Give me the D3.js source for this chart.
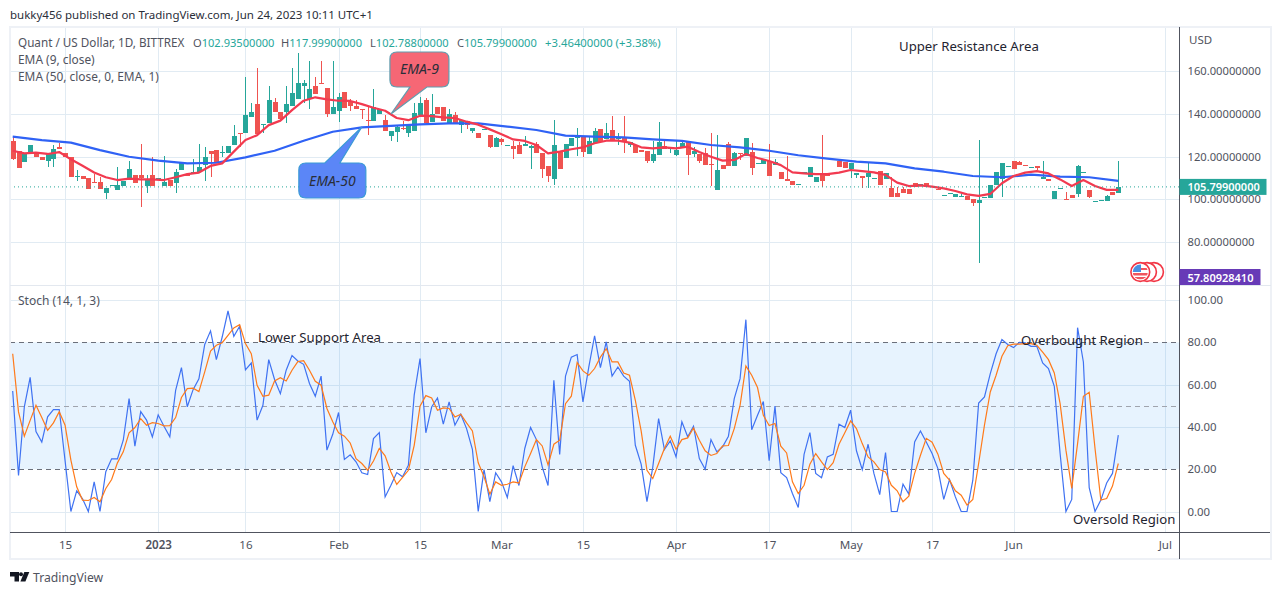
<!DOCTYPE html>
<html>
<head>
<meta charset="utf-8">
<script src="https://cdn.jsdelivr.net/npm/d3@7"></script>
<style>
  html, body { margin: 0; padding: 0; background: #fff; }
  svg { display: block; }
  text { font-family: "Noto Sans", sans-serif; }
</style>
</head>
<body>
<svg id="chart" width="1281" height="595"></svg>
<script>
// daily candles
var opens = [127.1,122.4,117.4,121.5,121.8,119.9,117.8,119,124.6,121.5,119.9,110.3,110.7,110,108.3,107.9,103.1,106.5,104.5,106.2,
  110,111.2,111.2,106.2,111.2,109.7,106.2,109,107.8,113.7,112,111.8,112.8,115.9,122.4,123,121.5,121.5,125.2,131.2,
  131.2,138.6,144.5,134.9,135.5,145.5,141,140.8,143.6,147,153,147,153,154.2,152,139.9,141.4,150.2,145.5,143.6,
  142.4,137,136.8,139.9,137,129.6,131.5,133.3,130.8,131.8,139.6,146.4,136.3,143,143,135.5,139.4,134.9,136.4,132,
  130.8,132.6,130,124.6,128.2,125.1,124.9,125.4,124.9,124,125.9,121.5,115.6,109.5,122.4,119.3,124.9,128.5,129.3,121.2,
  126.5,132.7,128.3,132.4,128,128.8,125.4,125.4,122.9,122.7,117.9,120.9,124.9,123.4,120.7,123.8,126.8,121.3,121.2,121.5,
  116.5,104.5,116,125.9,115.7,121.5,120.2,122.1,116.7,116.7,118.1,116,112.8,109.3,108.6,106.7,112.4,110.6,108.1,111.8,
  112.1,112,118.1,117.4,114.2,111.5,110.9,110.3,109.5,113.1,109.7,105.3,102.8,105,104.7,107.8,106.2,107.8,105.9,104.8,
  101.7,102.5,101.2,101.2,101.6,100,98.3,100.8,100.8,106.7,109.7,115.1,117.9,117.4,116,114.8,115.4,109.5,109.7,100.2,
  105,100.3,102,102.5,112.6,104.4,98.9,99.2,99.4,103.6,102.935];
var highs = [129.3,122.4,121.2,125.2,121.8,119.9,121.2,125.5,126.2,121.5,119.9,113.7,110.7,110,112,110.6,105.3,106.7,115.3,108.4,
  117.8,111.2,125.9,111.2,119.6,110,120.2,109,114,116.8,112,119,125.9,124.3,122.4,123,124.9,124.9,134.9,131.2,
  157,144.9,161.4,135.2,153,147.4,141,153,161.4,168.2,156,164.8,157,164.8,152,164.8,149.5,150.2,147,146.4,
  142.4,143.3,151.7,142,139.4,131.8,134.9,136.8,134.9,144.9,148,147.2,149.2,143,143,142,141,137,136.4,133.3,
  130.8,132.9,130,129,128.8,125.4,127.3,127,129.6,125.4,127,121.5,115.6,137,122.4,125.9,128.7,133.2,129.3,129.3,
  133.2,132.7,135.8,138.9,130.8,138.9,126.9,125.4,122.9,122.7,127.4,136.1,127.4,124.6,127.7,127.7,126.8,124.6,121.2,123.8,
  130.8,130,116,126.8,122,121.5,128.7,126.2,117,118.7,125.9,118.7,112.8,120.2,108.6,107,112.6,115,110.6,130,
  112.1,112.2,118.4,117.4,116.8,112.1,110.9,117.1,109.8,113.1,112.1,110.3,105.6,105.9,104.7,107.8,107.2,107.8,106.2,105.6,
  101.9,102.8,102.3,102.5,101.6,100,127.7,101.1,106.5,112.8,117,115.4,117.9,117.9,116,115.1,115.4,117.9,109.7,103.9,
  105.3,103.4,102,115.9,112.9,104.4,99.2,99.7,102,103.6,117.999];
var lows = [118.4,114.8,117.4,121.5,119.9,118.4,115.3,115.3,123.4,119.6,110.6,108.7,109.7,105,108,105,100.3,106.5,104.5,106.2,
  110,107.8,96.3,103.1,106.2,109.7,106.2,106.2,103.1,113.7,110.9,111.8,112.8,108.7,110.3,116.8,120,121.5,125.2,124.6,
  131.2,138.6,130.5,130.8,135.5,140.8,137,135.5,143.6,147,144.9,142.4,149.2,153.9,138.3,139.9,136.1,142.7,141.5,142.4,
  137.4,130.2,136.8,139.9,131.8,127.4,126.8,132.4,129.3,131.8,139.6,135.8,136.3,139.9,136.8,135.5,135.5,131.2,133,131.2,
  128.8,132.6,123.8,124.3,125.4,125.1,118.8,121.2,124.9,114.2,121.5,109.8,108.3,106.7,114.2,119.3,124.9,120.4,119.9,121.2,
  126.5,126.8,128.3,127.4,125.5,121.8,124.5,121.8,122.3,117.1,116.8,120.9,123.4,121.7,120.4,123.8,111.4,119.9,117.1,116.2,
  106.2,104.5,114.2,115.7,115.7,118.4,120.2,111.4,116.7,116.7,110.9,116,109.5,108.7,106.7,106.7,112.4,110.6,108.1,105.6,
  111.1,112,115.3,114.6,110,110,105.5,105.5,109.5,106.7,109.7,101.2,101.2,102.8,102.5,105.9,106.2,105.9,105.9,104.5,
  101.7,102.5,101.2,101.2,99.7,97,70.4,100.8,100.8,106.7,101.2,115.1,114.2,116.2,115.7,114.8,113.7,109.5,108.7,100.2,
  105,100,100.6,101.2,112.6,100.5,98.9,99.2,99.4,102,102.788];
var closes = [118.7,114.8,121.2,125.2,119.9,118.4,121.2,123.4,123.4,119.6,110.6,110.9,109.7,105,108,105,105.3,106.7,106.7,108.4,
  114,107.8,110,109,106.2,110,108.3,106.2,113,116.8,110.9,113,115.3,119.9,121.2,116.8,122,124.9,129.6,130.5,
  139.3,141,130.5,135.2,146.4,140.8,137.7,144.5,149.5,154.2,154.2,151.7,149.2,153.9,139.9,143,147.7,142.7,143.6,142.4,
  142,136.4,143,142,132,131.8,134,132.7,134.9,140.5,144.9,135.8,139.9,139.9,136.8,139.9,135.5,137,134.9,133.3,
  128.8,132.9,124.3,128.7,126.6,125.4,123.7,121.2,125.9,124.9,121.5,114.2,110.9,125.4,114.2,125.9,128.7,129.6,122.1,127.3,
  131.8,126.8,131,127.4,129.3,126.9,126.9,121.8,122.3,117.8,121.2,126.8,123.4,124.6,123.1,126.5,120.9,122.6,118.1,116.2,
  116.2,113.7,114.2,115.7,121.5,121.2,128.7,114.6,117,118.7,110.9,117.6,109.5,108.7,106.7,107,112.6,115,110.6,108.6,
  111.1,112.2,115.3,114.6,116.8,112.1,109.8,112.5,109.8,106.7,112.1,101.2,101.2,102.8,102.5,105.9,107.2,105.9,106.2,104.5,
  101.9,102.8,102.3,101.6,99.7,98.1,99.7,101.1,106.5,112.8,117,115.4,114.2,116.2,115.7,115.1,114.6,110.6,108.7,103.9,
  105.3,100,100.6,115.6,112.9,101.2,99.2,99.7,101.6,102,105.799];

// EMA values read at every 2nd bar (EMA 9) and every 5th bar (EMA 50)
var ema9Step = 2;
var ema9 = [122.7,121.5,121.8,121.2,122.1,118.7,115.7,112.5,110.3,109,109.7,109.3,109.3,109,110.3,111.8,112.5,115.6,116.8,122.3,
  127.7,130,134.7,136.8,141.7,146.1,147.7,146.7,146.1,146,144.5,142.8,141.4,138,137,139.1,138.9,138.3,138,136.3,
  134.9,132.7,130.4,128,127.3,125.4,121.5,122.3,123.4,124.3,126.2,127.4,127.4,126.5,124.3,123.8,124.3,123.8,124.6,122.1,
  119.9,118.1,118.4,121.2,119.3,117.9,116,112.6,112.1,111.8,111.8,112.5,113.7,113.2,112.6,111.4,107.8,106.2,106.5,105.9,
  105.1,103.9,102.3,101.6,102.5,107.5,110.9,112.5,113.2,112.1,109.3,106.2,109,106.2,104.4,104.4];
var ema50Step = 5;
var ema50 = [129.3,127.7,126.5,123,119.9,118.1,116.8,117.1,119.6,122.7,127.4,131.6,133.6,134.3,135,135.5,135.5,134,132.4,129.8,
  129.3,129,128,127.3,125.4,124.3,122.7,120.6,119,117.6,116.8,114.5,112.9,110.9,110.3,111.5,110.6,110.3,108.6];

var stochK = [57,17,49.5,63.4,37.8,32.8,44.8,48.2,48.2,24,0,9.8,6,0,14,0,18.8,24.9,24.9,33.7,
  53.4,30.9,47.2,43.2,35.3,45.7,40.3,35.3,57.3,68,49.5,57.6,62.7,79,85.4,71.8,82.5,94.8,82.8,87.6,
  67,70.2,43.2,50.2,71.8,62.4,55.7,66.8,73.7,71.2,69.6,60.5,54.5,64,29,36.5,46.8,24.6,26.8,23.5,
  18.3,17.5,34.5,37.3,6.9,12.4,18.4,16.4,21.9,55,72.3,37.2,49.4,53.7,41.3,51.8,40.8,46,39.2,29.4,
  0,19.8,4.7,18.3,14,6.6,21.7,12.3,29.8,39.7,34,21.1,12.3,62,27,64,73,74.2,51.8,68.3,
  83.1,68,80.2,64,68.3,64,61.6,31.3,22.4,4.7,21,43.9,29.3,33.4,25.8,42.4,35.3,40.3,25,20,
  34,28.2,30.6,35.6,53.4,62.8,90.7,38.7,45.5,52,24,49.8,18.4,16,8.5,1.9,27,37.3,18,16,
  25.8,27,41.3,39.7,47.9,28.7,19.8,31.8,18,8,27.9,0,0,12.9,8.2,32.9,38.1,32.9,27.4,20.3,
  5.7,15.1,6.9,0,0,14.8,51.3,54.2,65.2,74.6,81.3,79,77.5,80,79.7,78.1,78.1,70.2,67.6,59.2,
  27.4,0,5.7,86.9,70.7,11.3,0,5.4,13.5,18,36.1];
var stochD = [74.6,47.1,35.6,43.1,50.2,44.4,38.4,41.9,47.2,40.8,24.3,11.7,5.4,5.2,6.6,4.6,10.9,15.1,23,28.2,
  37.2,39.7,43.9,40.8,42,41.6,40.5,40.6,44.4,53.9,58.1,58.3,56.7,66,75.9,78.6,79.8,83.3,86.8,88.3,
  79.4,74.6,59.7,54.5,55,61.7,63.3,61.7,66.8,70.9,71.3,66.8,61.6,59.7,48.7,42.4,37.2,35.6,32.4,25,
  22.7,19.5,23.9,29.8,26.3,18.7,12.8,16.1,19.5,31.3,49.8,54.8,53.7,47.9,49,48.7,44.7,46,41.9,38.1,
  23,16.4,8.2,14,12.4,12.9,14,13.5,21.1,27.4,34,31,22,31.8,33.7,51,54.5,70.4,66.5,64.4,
  67.6,73,77,70.7,70.7,65.5,64.4,52.6,38.1,19.5,15.6,22.7,29.8,35.6,29.4,34,34.8,39.5,33.7,28.7,
  26.5,27.4,31,31.2,39.2,50.2,68.8,64.4,58.6,45.5,40.6,41.6,30.9,27.7,14,8.5,12.4,22.4,27.4,23.5,
  19.8,23.1,31.8,37.2,42.8,39.2,32.1,25.8,23.5,19.8,18.7,12.4,9.8,4.6,7.2,18,26.6,34.6,32.8,27.1,
  18,14.8,9.8,7.7,3,5.7,22.7,40.8,56.5,64.4,73.4,78.4,79.1,79.1,79.4,79.4,78.6,75.4,71.8,65.5,
  51,29,10.9,32.1,54.5,56.4,29.8,5.4,6.1,12,22.7];

var priceTicks = [160,140,120,100,80];
var stochTicks = [100,80,60,40,20,0];
var stochGrid = [100,60,40,0];
var stochLevels = [80,50,20];
var timeBars = [9,25,40,56,70,84,98,114,130,144,158,172,198];
var timeLabels = ["15","2023","16","Feb","15","Mar","15","Apr","17","May","17","Jun","Jul"];
var lastPrice = 105.799;
var otherPrice = 57.80928410;

var ohlcLabels = [["O","102.93500000",193],["H","117.99900000",281],["L","102.78800000",370],["C","105.79900000",457]];
var notes = [
  {text:"Upper Resistance Area", x:899, y:51},
  {text:"Lower Support Area", x:258, y:342},
  {text:"Overbought Region", x:1021, y:345},
  {text:"Oversold Region", x:1073, y:524}
];

var upColor = "#26a69a", downColor = "#ef5350", gridColor = "#e1ebf3", textColor = "#50535e";

var svg = d3.select("#chart");
var left = 10, right = 1179.5, frameRight = 1271;
var priceTop = 28, priceBottom = 285, stochBottom = 532, frameBottom = 559;

// bar index to pixel, one scale for both panes
var x = d3.scaleLinear().domain([0, 190]).range([12.7, 1118.3]);
var y = d3.scaleLinear().domain([100, 160]).range([199.3, 71]);
var yStoch = d3.scaleLinear().domain([0, 80]).range([511.5, 342.3]);

// text header
svg.append("text").attr("x", 10).attr("y", 19).attr("font-size", 11.5).attr("fill", "#2a2e39")
  .text("bukky456 published on TradingView.com, Jun 24, 2023 10:11 UTC+1");

// grids
var grid = svg.append("g").attr("stroke", gridColor).attr("shape-rendering", "crispEdges");
grid.selectAll(".vp").data(timeBars).join("line").attr("class", "vp")
  .attr("x1", function(d) { return Math.round(x(d)) + 0.5; })
  .attr("x2", function(d) { return Math.round(x(d)) + 0.5; })
  .attr("y1", priceTop).attr("y2", stochBottom);
grid.selectAll(".hp").data(priceTicks).join("line").attr("class", "hp")
  .attr("x1", left).attr("x2", right)
  .attr("y1", function(d) { return Math.round(y(d)) + 0.5; })
  .attr("y2", function(d) { return Math.round(y(d)) + 0.5; });

// stoch band sits under the grid lines of its pane
svg.append("rect").attr("x", left).attr("width", right - left)
  .attr("y", yStoch(80)).attr("height", yStoch(20) - yStoch(80))
  .attr("fill", "#2196f3").attr("opacity", 0.11);
grid.selectAll(".hs").data(stochGrid).join("line").attr("class", "hs")
  .attr("x1", left).attr("x2", right)
  .attr("y1", function(d) { return Math.round(yStoch(d)) + 0.5; })
  .attr("y2", function(d) { return Math.round(yStoch(d)) + 0.5; });

// candles
var bars = d3.range(closes.length);
var candle = svg.append("g").attr("shape-rendering", "crispEdges");
function barColor(i) { return closes[i] >= opens[i] ? upColor : downColor; }
candle.selectAll("line").data(bars).join("line")
  .attr("x1", function(i) { return Math.round(x(i)) + 0.5; })
  .attr("x2", function(i) { return Math.round(x(i)) + 0.5; })
  .attr("y1", function(i) { return y(highs[i]); })
  .attr("y2", function(i) { return y(lows[i]); })
  .attr("stroke", barColor);
candle.selectAll("rect").data(bars).join("rect")
  .attr("x", function(i) { return Math.round(x(i)) - 2; })
  .attr("width", 5)
  .attr("y", function(i) { return y(Math.max(opens[i], closes[i])); })
  .attr("height", function(i) { return Math.max(1, Math.abs(y(opens[i]) - y(closes[i]))); })
  .attr("fill", barColor);

// moving averages
function stepLine(step) {
  return d3.line().x(function(d, i) { return x(i * step); }).y(function(d) { return y(d); });
}
svg.append("path").datum(ema50).attr("fill", "none").attr("stroke", "#2f62f5").attr("stroke-width", 2.2)
  .attr("stroke-linejoin", "round").attr("d", stepLine(ema50Step));
svg.append("path").datum(ema9).attr("fill", "none").attr("stroke", "#f23a50").attr("stroke-width", 2.2)
  .attr("stroke-linejoin", "round").attr("d", stepLine(ema9Step));

// last price dotted line
svg.append("line").attr("x1", left).attr("x2", right)
  .attr("y1", y(lastPrice)).attr("y2", y(lastPrice))
  .attr("stroke", upColor).attr("stroke-dasharray", "1 3");

// stoch levels
svg.selectAll(".lvl").data(stochLevels).join("line").attr("class", "lvl")
  .attr("x1", left).attr("x2", right)
  .attr("y1", function(d) { return Math.round(yStoch(d)) + 0.5; })
  .attr("y2", function(d) { return Math.round(yStoch(d)) + 0.5; })
  .attr("stroke", function(d) { return d == 50 ? "#a0a4ad" : "#6b6f7a"; })
  .attr("stroke-dasharray", "5 4").attr("shape-rendering", "crispEdges");

var stochLine = d3.line().x(function(d, i) { return x(i); }).y(function(d) { return yStoch(d); });
svg.append("path").datum(stochK).attr("fill", "none").attr("stroke", "#3f72f2").attr("stroke-width", 1.2).attr("d", stochLine);
svg.append("path").datum(stochD).attr("fill", "none").attr("stroke", "#ff7a1a").attr("stroke-width", 1.2).attr("d", stochLine);

// frame and scale lines
var frame = svg.append("g").attr("shape-rendering", "crispEdges");
frame.append("rect").attr("x", left - 0.5).attr("y", 27).attr("width", frameRight - left + 0.5).attr("height", frameBottom - 27)
  .attr("fill", "none").attr("stroke", "#eef1f6").attr("stroke-width", 2);
frame.append("line").attr("x1", left).attr("x2", frameRight).attr("y1", priceBottom + 0.5).attr("y2", priceBottom + 0.5)
  .attr("stroke", "#e3e8ef").attr("stroke-width", 1.5);
frame.append("line").attr("x1", left).attr("x2", frameRight - 1).attr("y1", stochBottom + 0.5).attr("y2", stochBottom + 0.5)
  .attr("stroke", textColor);
frame.append("line").attr("x1", right).attr("x2", right).attr("y1", 27).attr("y2", frameBottom)
  .attr("stroke", textColor);

// axes, tick marks off
function cleanAxis(size) {
  return function(g) {
    g.select(".domain").remove();
    g.selectAll(".tick line").remove();
    g.selectAll("text").attr("fill", textColor).attr("font-size", size).attr("font-family", '"Noto Sans", sans-serif');
  };
}
svg.append("g").attr("transform", "translate(" + right + ",0)")
  .call(d3.axisRight(y).tickValues(priceTicks).tickFormat(d3.format(".8f")).tickSize(0).tickPadding(8))
  .call(cleanAxis(11.2));
svg.append("g").attr("transform", "translate(" + right + ",0)")
  .call(d3.axisRight(yStoch).tickValues(stochTicks).tickFormat(d3.format(".2f")).tickSize(0).tickPadding(8))
  .call(cleanAxis(11.4));
svg.append("g").attr("transform", "translate(0," + stochBottom + ")")
  .call(d3.axisBottom(x).tickValues(timeBars)
    .tickFormat(function(d, i) { return timeLabels[i]; }).tickSize(0).tickPadding(9))
  .call(cleanAxis(11.6));
svg.selectAll("g.tick text").filter(function() { return d3.select(this).text() == "2023"; })
  .attr("font-weight", 600);
svg.append("text").attr("x", 1189).attr("y", 44).attr("font-size", 11.5).attr("fill", textColor).text("USD");

// price labels on the scale
var labels = [
  {value:lastPrice, text:"105.79900000", fill:upColor, w:87, yv:y(lastPrice)},
  {value:otherPrice, text:"57.80928410", fill:"#673ab7", w:81, yv:277}
];
labels.forEach(function(d) {
  svg.append("rect").attr("x", right).attr("y", d.yv - 8).attr("width", d.w).attr("height", 16).attr("fill", d.fill);
  svg.append("text").attr("x", right + 8).attr("y", d.yv + 4.5).attr("font-size", 11).attr("font-weight", 600)
    .attr("fill", "#fff").text(d.text);
});

// legend
var legendColor = textColor;
svg.append("text").attr("x", 18).attr("y", 46.5).attr("font-size", 11.7).attr("fill", legendColor).text("Quant / US Dollar, 1D, BITTREX");
ohlcLabels.forEach(function(d) {
  var t = svg.append("text").attr("x", d[2]).attr("y", 46.5).attr("font-size", 11.1).attr("fill", legendColor);
  t.append("tspan").text(d[0]);
  t.append("tspan").attr("fill", upColor).text(d[1]);
});
svg.append("text").attr("x", 545).attr("y", 46.5).attr("font-size", 11.3).attr("fill", upColor).text("+3.46400000 (+3.38%)");
svg.append("text").attr("x", 18).attr("y", 63.5).attr("font-size", 11.9).attr("fill", legendColor).text("EMA (9, close)");
svg.append("text").attr("x", 18).attr("y", 80.5).attr("font-size", 11.9).attr("fill", legendColor).text("EMA (50, close, 0, EMA, 1)");
svg.append("text").attr("x", 18).attr("y", 305).attr("font-size", 12).attr("fill", legendColor).text("Stoch (14, 1, 3)");

// callouts, the tip sits on the line it names
var callouts = [
  {text:"EMA-9", tipBar:65, tipPrice:139.9, box:[-1,-62,58,-27], base:[19,36], fill:"#f66775", stroke:"#5f9db0"},
  {text:"EMA-50", tipBar:60, tipPrice:133.8, box:[-63,36,4,71], base:[-37,-22], fill:"#5b86f7", stroke:"#3b9ad6"}
];
callouts.forEach(function(c) {
  var tx = x(c.tipBar), ty = y(c.tipPrice);
  var x0 = tx + c.box[0], y0 = ty + c.box[1], x1 = tx + c.box[2], y1 = ty + c.box[3], r = 7;
  var pb = c.box[1] > 0 ? y0 : y1;
  var bx = [tx + c.base[0], tx + c.base[1]].sort(d3.ascending);
  var p = d3.path();
  p.moveTo(x0 + r, y0);
  if (pb == y0) { p.lineTo(bx[0], y0); p.lineTo(tx, ty); p.lineTo(bx[1], y0); }
  p.lineTo(x1 - r, y0); p.quadraticCurveTo(x1, y0, x1, y0 + r);
  p.lineTo(x1, y1 - r); p.quadraticCurveTo(x1, y1, x1 - r, y1);
  if (pb == y1) { p.lineTo(bx[1], y1); p.lineTo(tx, ty); p.lineTo(bx[0], y1); }
  p.lineTo(x0 + r, y1); p.quadraticCurveTo(x0, y1, x0, y1 - r);
  p.lineTo(x0, y0 + r); p.quadraticCurveTo(x0, y0, x0 + r, y0);
  p.closePath();
  svg.append("path").attr("d", p.toString()).attr("fill", c.fill).attr("stroke", c.stroke).attr("stroke-width", 1.2);
  svg.append("text").attr("x", (x0 + x1) / 2).attr("y", (y0 + y1) / 2 + 5).attr("text-anchor", "middle")
    .attr("font-size", 14).attr("font-style", "italic").attr("fill", "#2a2e39").text(c.text);
});

// free text on the chart
svg.selectAll(".note").data(notes).join("text").attr("class", "note")
  .attr("x", function(d) { return d.x; }).attr("y", function(d) { return d.y; })
  .attr("font-size", 13.2).attr("fill", "#1f2430").text(function(d) { return d.text; });

// currency icons
var flag = svg.append("g");
[1154, 1147, 1140.3].forEach(function(cx) {
  flag.append("circle").attr("cx", cx).attr("cy", 272).attr("r", 9.4).attr("fill", "#fff").attr("stroke", "#f23645").attr("stroke-width", 1.6);
});
var defs = svg.append("defs");
defs.append("clipPath").attr("id", "flagClip").append("circle").attr("cx", 1140.3).attr("cy", 272).attr("r", 7.6);
var inner = flag.append("g").attr("clip-path", "url(#flagClip)");
inner.append("rect").attr("x", 1132).attr("y", 273).attr("width", 17).attr("height", 2.5).attr("fill", "#f0555f");
inner.append("rect").attr("x", 1132).attr("y", 277).attr("width", 17).attr("height", 2.5).attr("fill", "#f0555f");
inner.append("rect").attr("x", 1140).attr("y", 268).attr("width", 9).attr("height", 2).attr("fill", "#f0555f");
inner.append("rect").attr("x", 1132).attr("y", 264).attr("width", 9).attr("height", 8).attr("fill", "#4a90e2");

// tradingview mark
var logo = svg.append("g").attr("fill", "#131722");
logo.append("path").attr("d", "M10 572h9v9.5h-4.5v-5H10z");
logo.append("circle").attr("cx", 21).attr("cy", 574.3).attr("r", 2);
logo.append("path").attr("d", "M24.3 572h5l-3.9 9.5h-5z");
svg.append("text").attr("x", 33).attr("y", 582).attr("font-size", 12.2).attr("fill", textColor).text("TradingView");
</script>
</body>
</html>
